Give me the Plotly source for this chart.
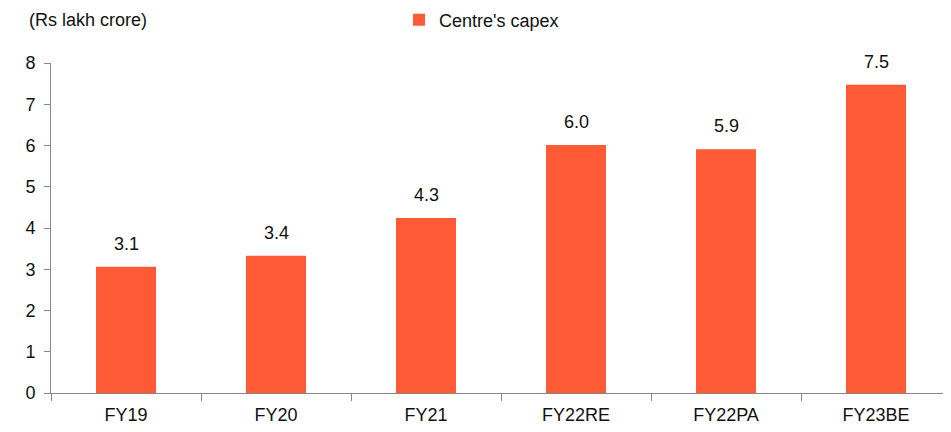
import plotly.graph_objects as go

categories = ["FY19", "FY20", "FY21", "FY22RE", "FY22PA", "FY23BE"]
capex = [3.06, 3.33, 4.24, 6.01, 5.91, 7.47]
labels = ["3.1", "3.4", "4.3", "6.0", "5.9", "7.5"]
y_ticks = [0, 1, 2, 3, 4, 5, 6, 7, 8]

bar_color = "#FF5A36"
font = "Liberation Sans, Arial, sans-serif"
fsize = 18

fig = go.Figure()
fig.add_trace(go.Bar(
    x=categories, y=capex, name="Centre's capex",
    marker=dict(color=bar_color, line=dict(width=0)),
    width=0.4,
))

annotations = [dict(x=c, y=v, text=t, xref="x", yref="y", showarrow=False,
                    yanchor="bottom", yshift=11,
                    font=dict(size=fsize, family=font, color="#111111"))
               for c, v, t in zip(categories, capex, labels)]
annotations.append(dict(text="(Rs lakh crore)", xref="paper", yref="paper",
                        x=(19 - 43) / 900, y=(385 - 12) / 330, xanchor="left", yanchor="middle",
                        showarrow=False, font=dict(size=fsize, family=font, color="#111111")))

fig.update_layout(
    width=943, height=424,
    margin=dict(l=43, r=0, t=55, b=39, autoexpand=False),
    paper_bgcolor="white", plot_bgcolor="white",
    font=dict(family=font, size=fsize, color="#111111"),
    showlegend=True,
    legend=dict(orientation="h", xref="container", yref="container",
                x=391 / 943, y=1 - 12 / 424, xanchor="left", yanchor="middle",
                font=dict(size=fsize, family=font), bgcolor="rgba(0,0,0,0)"),
    annotations=annotations,
)
fig.update_xaxes(showline=True, linecolor="#888888", linewidth=1, ticks="outside",
                 tickson="boundaries", ticklen=7, tickcolor="#888888", ticklabelstandoff=5,
                 showgrid=False, tickfont=dict(size=fsize), automargin=False)
fig.update_yaxes(range=[0, 8], tickvals=y_ticks, showline=True, linecolor="#888888",
                 linewidth=1, ticks="outside", ticklen=6, tickcolor="#888888", ticklabelstandoff=5,
                 showgrid=False, zeroline=False, tickfont=dict(size=fsize), automargin=False)

fig.write_html("out.html")
